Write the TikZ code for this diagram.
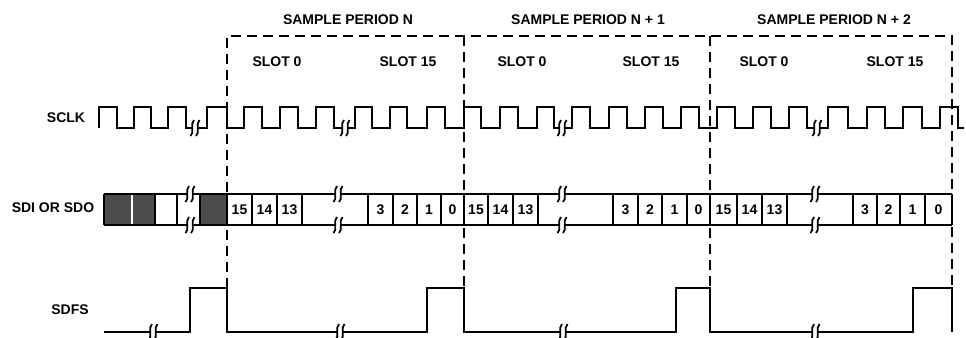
\documentclass[tikz,border=0pt]{standalone}
\usepackage{fontspec}
\setmainfont{Liberation Sans}
\usepackage{tikz}

\tikzset{
  wave/.style={line width=2, line join=miter},
  periodline/.style={line width=2, dash pattern=on 7.5pt off 4.5pt},
  bitfill/.style={fill={rgb, 255:red, 75; green, 75; blue, 75 }},
  lbl/.style={font=\fontsize{10.5}{12}\selectfont\bfseries, inner sep=0pt},
  brk/.pic={
    \fill[white] (-2.5,-3.5) rectangle (2.5,3.5);
    \draw[line width=1.3] (-4.5,-8) .. controls (0,-5) and (-5.5,4) .. (-1,8);
    \draw[line width=1.3] (1,-8) .. controls (5.5,-5) and (0,4) .. (4.5,8);
  }
}

\begin{document}
\begin{tikzpicture}[x=0.75pt,y=0.75pt,yscale=-1,xscale=1]
\useasboundingbox (0,0) rectangle (966,337);

%Dashed Box [id:period frames] 
\draw [periodline]  (227,288) -- (227,36) -- (952,36) -- (952,288) ;
\draw [periodline]  (464,36) -- (464,288) ;
\draw [periodline]  (710,36) -- (710,288) ;

%Shape: SCLK waveform 
\draw [wave]  (99,128) -- (99,107) -- (117,107) -- (117,128) -- (134,128) -- (134,107) -- (151,107) -- (151,128) -- (168,128) -- (168,107) -- (186,107) -- (186,128) -- (207,128) -- (207,107) -- (227,107) -- (227,128) -- (244,128) -- (244,107) -- (262,107) -- (262,128) -- (280,128) -- (280,107) -- (298,107) -- (298,128) -- (316,128) -- (316,107) -- (334,107) -- (334,128) -- (355,128) -- (355,107) -- (372,107) -- (372,128) -- (390,128) -- (390,107) -- (407,107) -- (407,128) -- (427,128) -- (427,107) -- (445,107) -- (445,128) -- (464,128) -- (464,107) -- (481,107) -- (481,128) -- (500,128) -- (500,107) -- (518,107) -- (518,128) -- (537,128) -- (537,107) -- (554,107) -- (554,128) -- (572,128) -- (572,107) -- (590,107) -- (590,128) -- (609,128) -- (609,107) -- (627,107) -- (627,128) -- (645,128) -- (645,107) -- (663,107) -- (663,128) -- (681,128) -- (681,107) -- (699,107) -- (699,128) -- (717,128) -- (717,107) -- (735,107) -- (735,128) -- (753,128) -- (753,107) -- (771,107) -- (771,128) -- (789,128) -- (789,107) -- (807,107) -- (807,128) -- (828,128) -- (828,107) -- (848,107) -- (848,128) -- (867,128) -- (867,107) -- (885,107) -- (885,128) -- (903,128) -- (903,107) -- (922,107) -- (922,128) -- (940,128) -- (940,107) -- (958,107) -- (958,128) -- (964,128) ;

%Shape: SDI / SDO shaded bits 
\fill [bitfill]  (105,194) rectangle (131,225) ;
\fill [bitfill]  (133,194) rectangle (155,225) ;
\fill [bitfill]  (200,194) rectangle (227,225) ;

%Shape: SDI / SDO frame 
\draw [wave]  (104,194) -- (952,194) ;
\draw [wave]  (104,225) -- (952,225) ;
\draw [wave]  (104,194) -- (104,225) ;
\draw [wave]  (155,194) -- (155,225) (177,194) -- (177,225) (200,194) -- (200,225) (227,194) -- (227,225) (252,194) -- (252,225) (277,194) -- (277,225) (302,194) -- (302,225) ;
\draw [wave]  (368,194) -- (368,225) (393,194) -- (393,225) (417,194) -- (417,225) (441,194) -- (441,225) (464,194) -- (464,225) ;
\draw [wave]  (488,194) -- (488,225) (513,194) -- (513,225) (538,194) -- (538,225) ;
\draw [wave]  (613,194) -- (613,225) (638,194) -- (638,225) (662,194) -- (662,225) (687,194) -- (687,225) (710,194) -- (710,225) ;
\draw [wave]  (737,194) -- (737,225) (762,194) -- (762,225) (787,194) -- (787,225) ;
\draw [wave]  (853,194) -- (853,225) (877,194) -- (877,225) (900,194) -- (900,225) (925,194) -- (925,225) (952,194) -- (952,225) ;

%Shape: SDFS waveform 
\draw [wave]  (104,332) -- (190,332) -- (190,288) -- (227,288) -- (227,332) -- (427,332) -- (427,288) -- (464,288) -- (464,332) -- (676,332) -- (676,288) -- (710,288) -- (710,332) -- (913,332) -- (913,288) -- (952,288) -- (952,332) ;

%Breaks 
\path (195,128) pic {brk} (345,128) pic {brk} (562,128) pic {brk} (817,128) pic {brk} ;
\path (190,194) pic {brk} (338,194) pic {brk} (562,194) pic {brk} (815,194) pic {brk} ;
\path (190,225) pic {brk} (338,225) pic {brk} (562,225) pic {brk} (815,225) pic {brk} ;
\path (153,332) pic {brk} (340,332) pic {brk} (563,332) pic {brk} (815,332) pic {brk} ;

% Text Node
\draw (348,20) node [lbl] (perN) {SAMPLE PERIOD N};
% Text Node
\draw (588,20) node [lbl] (perN1) {SAMPLE PERIOD N + 1};
% Text Node
\draw (834,20) node [lbl] (perN2) {SAMPLE PERIOD N + 2};
% Text Node
\draw (277,62) node [lbl] (slotA0) {SLOT 0};
% Text Node
\draw (408,62) node [lbl] (slotA15) {SLOT 15};
% Text Node
\draw (522,62) node [lbl] (slotB0) {SLOT 0};
% Text Node
\draw (651,62) node [lbl] (slotB15) {SLOT 15};
% Text Node
\draw (764,62) node [lbl] (slotC0) {SLOT 0};
% Text Node
\draw (895,62) node [lbl] (slotC15) {SLOT 15};
% Text Node
\draw (66,118) node [lbl] (sclk) {SCLK};
% Text Node
\draw (53,208) node [lbl] (sdi) {SDI OR SDO};
% Text Node
\draw (70,310) node [lbl] (sdfs) {SDFS};

% Text Node
\draw (239.5,209.5) node [lbl] (bA15) {15};
% Text Node
\draw (264.5,209.5) node [lbl] (bA14) {14};
% Text Node
\draw (289.5,209.5) node [lbl] (bA13) {13};
% Text Node
\draw (380.5,209.5) node [lbl] (bA3) {3};
% Text Node
\draw (405,209.5) node [lbl] (bA2) {2};
% Text Node
\draw (429,209.5) node [lbl] (bA1) {1};
% Text Node
\draw (452.5,209.5) node [lbl] (bA0) {0};
% Text Node
\draw (476,209.5) node [lbl] (bB15) {15};
% Text Node
\draw (500.5,209.5) node [lbl] (bB14) {14};
% Text Node
\draw (525.5,209.5) node [lbl] (bB13) {13};
% Text Node
\draw (625.5,209.5) node [lbl] (bB3) {3};
% Text Node
\draw (650,209.5) node [lbl] (bB2) {2};
% Text Node
\draw (674.5,209.5) node [lbl] (bB1) {1};
% Text Node
\draw (698.5,209.5) node [lbl] (bB0) {0};
% Text Node
\draw (723.5,209.5) node [lbl] (bC15) {15};
% Text Node
\draw (749.5,209.5) node [lbl] (bC14) {14};
% Text Node
\draw (774.5,209.5) node [lbl] (bC13) {13};
% Text Node
\draw (865,209.5) node [lbl] (bC3) {3};
% Text Node
\draw (888.5,209.5) node [lbl] (bC2) {2};
% Text Node
\draw (912.5,209.5) node [lbl] (bC1) {1};
% Text Node
\draw (938.5,209.5) node [lbl] (bC0) {0};

\end{tikzpicture}
\end{document}
